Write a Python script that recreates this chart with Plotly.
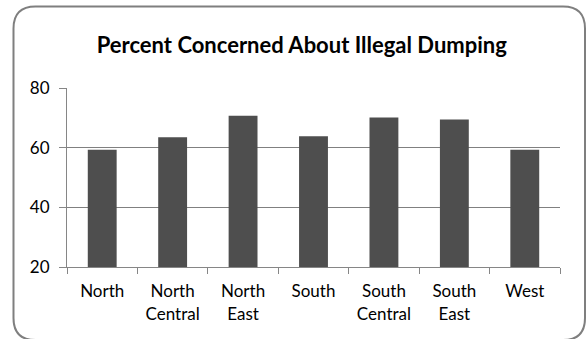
import plotly.graph_objects as go

# Survey results by region
regions = ["North", "North<br>Central", "North<br>East", "South",
           "South<br>Central", "South<br>East", "West"]
percent_concerned = [59.3, 63.5, 70.7, 63.8, 70.1, 69.4, 59.3]
y_ticks = [20, 40, 60, 80]

W, H = 586, 339
L, R, T, B = 67, 26, 88, 72
pw, ph = W - L - R, H - T - B


def px_to_paper(x, y):
    return (x - L) / pw, (H - B - y) / ph


def rounded_frame(x0, y0, x1, y1, r):
    def P(x, y):
        fx, fy = px_to_paper(x, y)
        return f"{fx:.5f},{fy:.5f}"
    return (f"M {P(x0 + r, y0)} L {P(x1 - r, y0)} Q {P(x1, y0)} {P(x1, y0 + r)} "
            f"L {P(x1, y1 - r)} Q {P(x1, y1)} {P(x1 - r, y1)} "
            f"L {P(x0 + r, y1)} Q {P(x0, y1)} {P(x0, y1 - r)} "
            f"L {P(x0, y0 + r)} Q {P(x0, y0)} {P(x0 + r, y0)} Z")


fig = go.Figure(go.Bar(
    x=regions, y=percent_concerned,
    width=0.41,
    marker=dict(color="#4e4e4e", line=dict(width=0)),
))

fig.update_layout(
    width=W, height=H,
    margin=dict(l=L, r=R, t=T, b=B),
    paper_bgcolor="white", plot_bgcolor="white",
    showlegend=False,
    font=dict(family="Lato, Open Sans, sans-serif", size=17, color="#000000"),
    title=dict(text="<b>Percent Concerned About Illegal Dumping</b>",
               x=0.515, xanchor="center", y=1 - 45 / H, yanchor="middle",
               font=dict(size=22, color="#000000")),
    shapes=[dict(type="path", xref="paper", yref="paper",
                 path=rounded_frame(13.5, 6.5, 585, 340, 22),
                 line=dict(color="#7f7f7f", width=2), layer="below")],
)

fig.update_xaxes(
    type="category", showline=True, linecolor="#868686", linewidth=1,
    ticks="outside", tickson="boundaries", ticklen=6, tickcolor="#868686",
    showgrid=False, tickfont=dict(size=17), ticklabelstandoff=9,
)
fig.update_yaxes(
    range=[20, 80], tickvals=y_ticks, showline=True, linecolor="#868686",
    linewidth=1, ticks="outside", ticklen=7, tickcolor="#868686",
    showgrid=True, gridcolor="#808080", gridwidth=1,
    zeroline=False, tickfont=dict(size=17), ticklabelstandoff=6,
)

fig.write_html("out.html")
